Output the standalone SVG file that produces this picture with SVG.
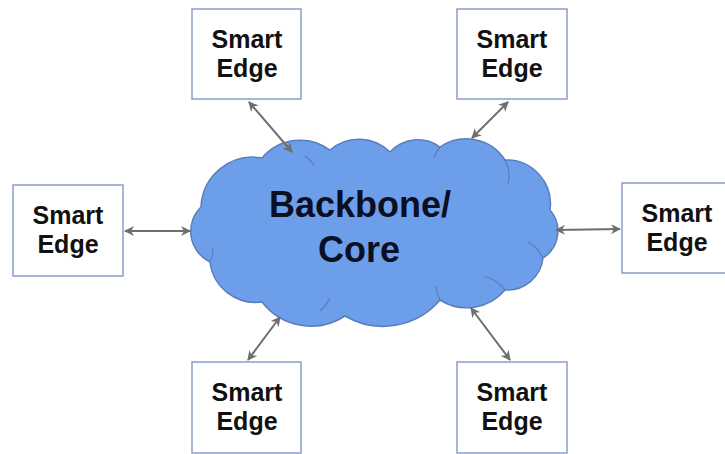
<svg xmlns="http://www.w3.org/2000/svg" width="725" height="454" viewBox="0 0 725 454">
  <defs>
    <marker id="head" viewBox="0 0 10 10" refX="9" refY="5" markerWidth="5" markerHeight="5" orient="auto-start-reverse" markerUnits="strokeWidth">
      <path d="M0,0 L10,5 L0,10 L3,5 Z" fill="#6e6e6e"/>
    </marker>
    <style>
      .box { fill: #ffffff; stroke: #8c9ccc; stroke-width: 1.5; }
      .lbl { font-family: "Liberation Sans", Arial, sans-serif; font-weight: bold; font-size: 25px; fill: #111111; text-anchor: middle; }
      .core { font-family: "Liberation Sans", Arial, sans-serif; font-weight: bold; font-size: 36px; fill: #0a0f24; text-anchor: middle; }
      .link { stroke: #6e6e6e; stroke-width: 2; fill: none; marker-start: url(#head); marker-end: url(#head); }
      .cloud { fill: #6d9ee9; stroke: #5a7dbd; stroke-width: 1.5; }
      .fold { fill: none; stroke: #5a7dbd; stroke-width: 1.2; }
    </style>
  </defs>

  <rect width="725" height="454" fill="#ffffff"/>

  <!-- backbone cloud -->
  <g id="core">
    <path class="cloud" d="M201,207
      A52,52 0 0 1 262,158
      A50,50 0 0 1 330,150
      A44,44 0 0 1 390,152
      A38,38 0 0 1 440,147
      A46,46 0 0 1 505,160
      A44,44 0 0 1 550,210
      A32,32 0 0 1 543,258
      A36,36 0 0 1 505,290
      A50,50 0 0 1 440,300
      A75,75 0 0 1 345,316
      A62,62 0 0 1 262,302
      A46,46 0 0 1 210,262
      A34,34 0 0 1 201,207 Z"/>
    <path class="fold" d="M305,156 A30,30 0 0 1 314,165"/>
    <path class="fold" d="M440,147 A30,30 0 0 0 434,158"/>
    <path class="fold" d="M505,160 A34,34 0 0 1 508,184"/>
    <path class="fold" d="M543,258 A40,40 0 0 0 528,242"/>
    <path class="fold" d="M505,290 A40,40 0 0 0 484,276"/>
    <path class="fold" d="M440,300 A40,40 0 0 1 436,286"/>
    <path class="fold" d="M320,311 A40,40 0 0 0 330,298"/>
    <path class="fold" d="M210,262 A30,30 0 0 0 213,248"/>
    <text class="core" x="360" y="217">Backbone/</text>
    <text class="core" x="359" y="262">Core</text>
  </g>

  <!-- edge nodes -->
  <g id="edge-top-left">
    <rect class="box" x="192" y="9" width="109" height="90"/>
    <text class="lbl" x="247" y="48">Smart</text>
    <text class="lbl" x="247" y="77">Edge</text>
  </g>
  <g id="edge-top-right">
    <rect class="box" x="457" y="9" width="110" height="90"/>
    <text class="lbl" x="512" y="48">Smart</text>
    <text class="lbl" x="512" y="77">Edge</text>
  </g>
  <g id="edge-left">
    <rect class="box" x="13" y="185" width="110" height="91"/>
    <text class="lbl" x="68" y="224">Smart</text>
    <text class="lbl" x="68" y="253">Edge</text>
  </g>
  <g id="edge-right">
    <rect class="box" x="622" y="183" width="110" height="90"/>
    <text class="lbl" x="677" y="222">Smart</text>
    <text class="lbl" x="677" y="251">Edge</text>
  </g>
  <g id="edge-bottom-left">
    <rect class="box" x="192" y="362" width="109" height="91"/>
    <text class="lbl" x="247" y="401">Smart</text>
    <text class="lbl" x="247" y="430">Edge</text>
  </g>
  <g id="edge-bottom-right">
    <rect class="box" x="457" y="362" width="110" height="91"/>
    <text class="lbl" x="512" y="401">Smart</text>
    <text class="lbl" x="512" y="430">Edge</text>
  </g>

  <!-- connectors -->
  <g id="links">
    <line class="link" x1="249" y1="102" x2="292" y2="152"/>
    <line class="link" x1="508" y1="102" x2="472" y2="138"/>
    <line class="link" x1="125" y1="231" x2="190" y2="231"/>
    <line class="link" x1="556" y1="230" x2="620" y2="229"/>
    <line class="link" x1="280" y1="317" x2="248" y2="360"/>
    <line class="link" x1="471" y1="308" x2="510" y2="360"/>
  </g>
</svg>
